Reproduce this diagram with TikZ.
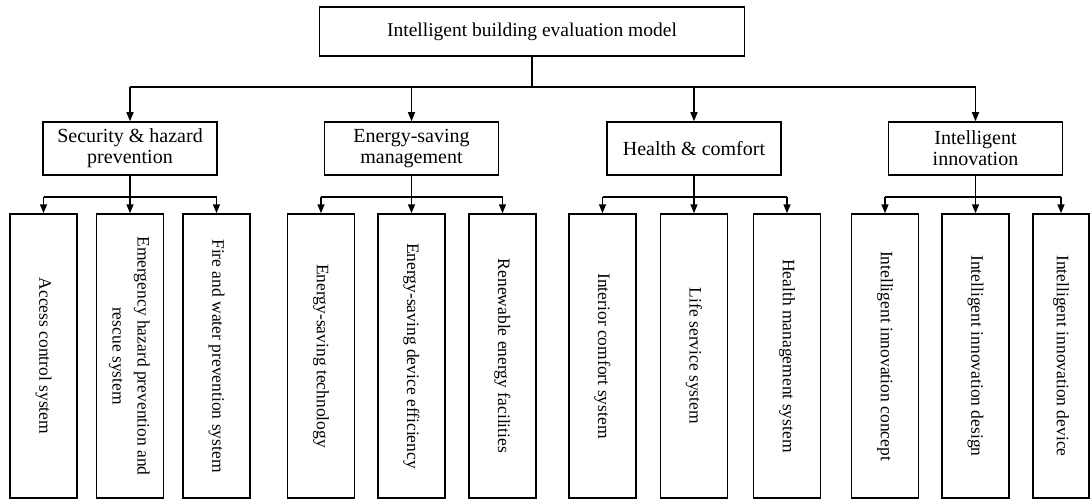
\documentclass[tikz,border=0pt]{standalone}
\usepackage{fontspec}
\setmainfont{Liberation Serif}
\usetikzlibrary{arrows.meta}
\begin{document}
\begin{tikzpicture}[x=1pt,y=-1pt,
 box/.style={draw,line width=1.5pt,inner sep=0pt,align=center},
 topbox/.style={box,minimum width=425pt,minimum height=49pt,font=\fontsize{19.5}{21}\selectfont},
 cat/.style={box,minimum width=174pt,minimum height=53pt,font=\fontsize{20}{21}\selectfont},
 leaf/.style={box,minimum width=67pt,minimum height=284pt,font=\fontsize{17.5}{25}\selectfont},
 arr/.style={line width=1.5pt,-{Triangle[length=9pt,width=7pt]}},
 ln/.style={line width=1.5pt}]
\useasboundingbox (0,0) rectangle (1090,500);

\node[topbox] (top) at (532,31.5) {Intelligent building evaluation model};

\node[cat] (c1) at (130,148.5) {Security \& hazard\\prevention};
\node[cat] (c2) at (411.5,148.5) {Energy-saving\\management};
\node[cat] (c3) at (694,148.5) {Health \& comfort};
\node[cat] (c4) at (975.5,148.5) {Intelligent\\innovation};

\node[leaf] (l11) at (43.5,356) {\rotatebox{-90}{Access control system}};
\node[leaf] (l12) at (130,356) {\rotatebox{-90}{\begin{tabular}{@{}c@{}}Emergency hazard prevention and\\rescue system\end{tabular}}};
\node[leaf] (l13) at (216.5,356) {\rotatebox{-90}{Fire and water prevention system}};

\node[leaf] (l21) at (321,356) {\rotatebox{-90}{Energy-saving technology}};
\node[leaf] (l22) at (411.5,356) {\rotatebox{-90}{Energy-saving device efficiency}};
\node[leaf] (l23) at (502.5,356) {\rotatebox{-90}{Renewable energy facilities}};

\node[leaf] (l31) at (602.5,356) {\rotatebox{-90}{Interior comfort system}};
\node[leaf] (l32) at (694,356) {\rotatebox{-90}{Life service system}};
\node[leaf] (l33) at (787,356) {\rotatebox{-90}{Health management system}};

\node[leaf] (l41) at (885,356) {\rotatebox{-90}{Intelligent innovation concept}};
\node[leaf] (l42) at (975.5,356) {\rotatebox{-90}{Intelligent innovation design}};
\node[leaf,minimum width=56pt] (l43) at (1061,356) {\rotatebox{-90}{Intelligent innovation device}};

\coordinate (bus) at (532,87);
\draw[ln] (top.south) -- (bus);
\draw[ln] (bus -| c1.north) -- (bus -| c4.north);
\foreach \c in {c1,c2,c3,c4}{\draw[arr] (bus -| \c.north) -- (\c.north);}

\coordinate (bb) at (0,197);
\foreach \g in {1,2,3,4}{
  \draw[ln] (c\g.south) -- (bb -| c\g.south);
  \draw[ln] (bb -| l\g1.north) -- (bb -| l\g3.north);
  \foreach \k in {1,2,3}{\draw[arr] (bb -| l\g\k.north) -- (l\g\k.north);}
}
\end{tikzpicture}
\end{document}
